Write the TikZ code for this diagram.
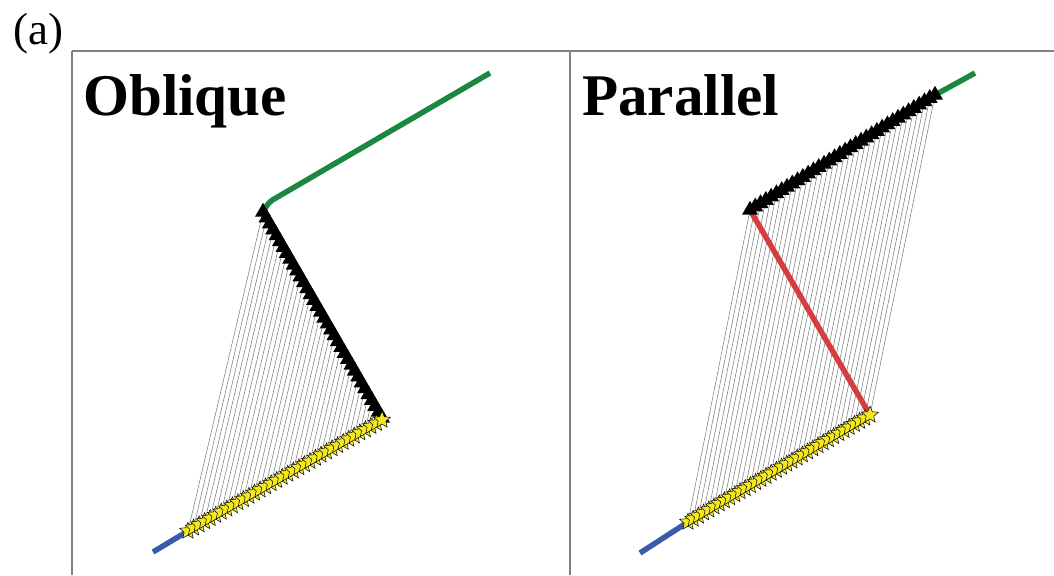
\documentclass[tikz,border=0pt]{standalone}
\usepackage{fontspec}
\setmainfont{Liberation Serif}
\usetikzlibrary{calc,shapes.geometric,backgrounds}
\definecolor{pathgreen}{RGB}{28,135,65}
\definecolor{pathblue}{RGB}{58,90,170}
\definecolor{pathred}{RGB}{215,60,62}
\definecolor{staryellow}{RGB}{245,232,30}
\definecolor{framegray}{RGB}{130,130,130}

\begin{document}
\begin{tikzpicture}[
  x=0.025cm, y=-0.025cm,
  frame/.style={framegray, line width=0.9pt},
  link/.style={black!50, line width=0.4pt},
  strand/.style={line width=3.9pt},
  starmark/.style={star, star points=5, star point ratio=2.2, fill=staryellow,
    draw=black, line width=0.35pt, minimum size=0.44cm, inner sep=0pt},
  trimark/.style={regular polygon, regular polygon sides=3, fill=black,
    minimum size=0.46cm, inner sep=0pt},
  title/.style={font=\fontsize{42}{42}\selectfont\bfseries, anchor=base west, inner sep=0pt}
]
\useasboundingbox (0,0) rectangle (1054,575);

%% ── LABELS ──────────────────────────────────────────────────────
\node[font=\fontsize{32}{32}\selectfont, anchor=base west, inner sep=0pt]
  (tag) at (13,44) {(a)};
\node[title] (oblique) at (83,115) {Oblique};
\node[title] (parallel) at (582,115) {Parallel};

%% ── END POINTS ──────────────────────────────────────────────────
\coordinate (lsA) at (188,531);   \coordinate (lsB) at (382,420);
\coordinate (ltA) at (263,212);   \coordinate (ltB) at (382,418);
\coordinate (rsA) at (688,522);   \coordinate (rsB) at (870,415);
\coordinate (rtA) at (750,210);   \coordinate (rtB) at (935,95);

%% ── MARKERS (triangles, then stars) ─────────────────────────────
\foreach \i in {0,...,35}{
  \pgfmathsetmacro\t{\i/35}
  \node[trimark] (lt\i) at ($(ltA)!\t!(ltB)$) {};
  \node[trimark] (rt\i) at ($(rtA)!\t!(rtB)$) {};
}
\foreach \i in {0,...,35}{
  \pgfmathsetmacro\t{\i/35}
  \node[starmark] (ls\i) at ($(lsA)!\t!(lsB)$) {};
  \node[starmark] (rs\i) at ($(rsA)!\t!(rsB)$) {};
}

\begin{scope}[on background layer]
%% ── FRAME ───────────────────────────────────────────────────────
\draw[frame] (72,51) -- (1054,51);
\draw[frame] (72,51) -- (72,575);
\draw[frame] (570,51) -- (570,575);

%% ── LINKS ───────────────────────────────────────────────────────
\foreach \i in {0,...,35}{
  \draw[link] (ls\i.center) -- (lt\i.center);
  \draw[link] (rs\i.center) -- (rt\i.center);
}

%% ── STRANDS ─────────────────────────────────────────────────────
\draw[strand, pathblue] (153,552) -- (lsA);
\draw[strand, pathgreen, rounded corners=3pt] (ltA) -- (269,202) -- (490,73);
\draw[strand, pathblue] (640,553) -- (rsA);
\draw[strand, pathred] (rsB) -- (rtA);
\draw[strand, pathgreen] (rtB) -- (975,73);
\end{scope}

\end{tikzpicture}
\end{document}
